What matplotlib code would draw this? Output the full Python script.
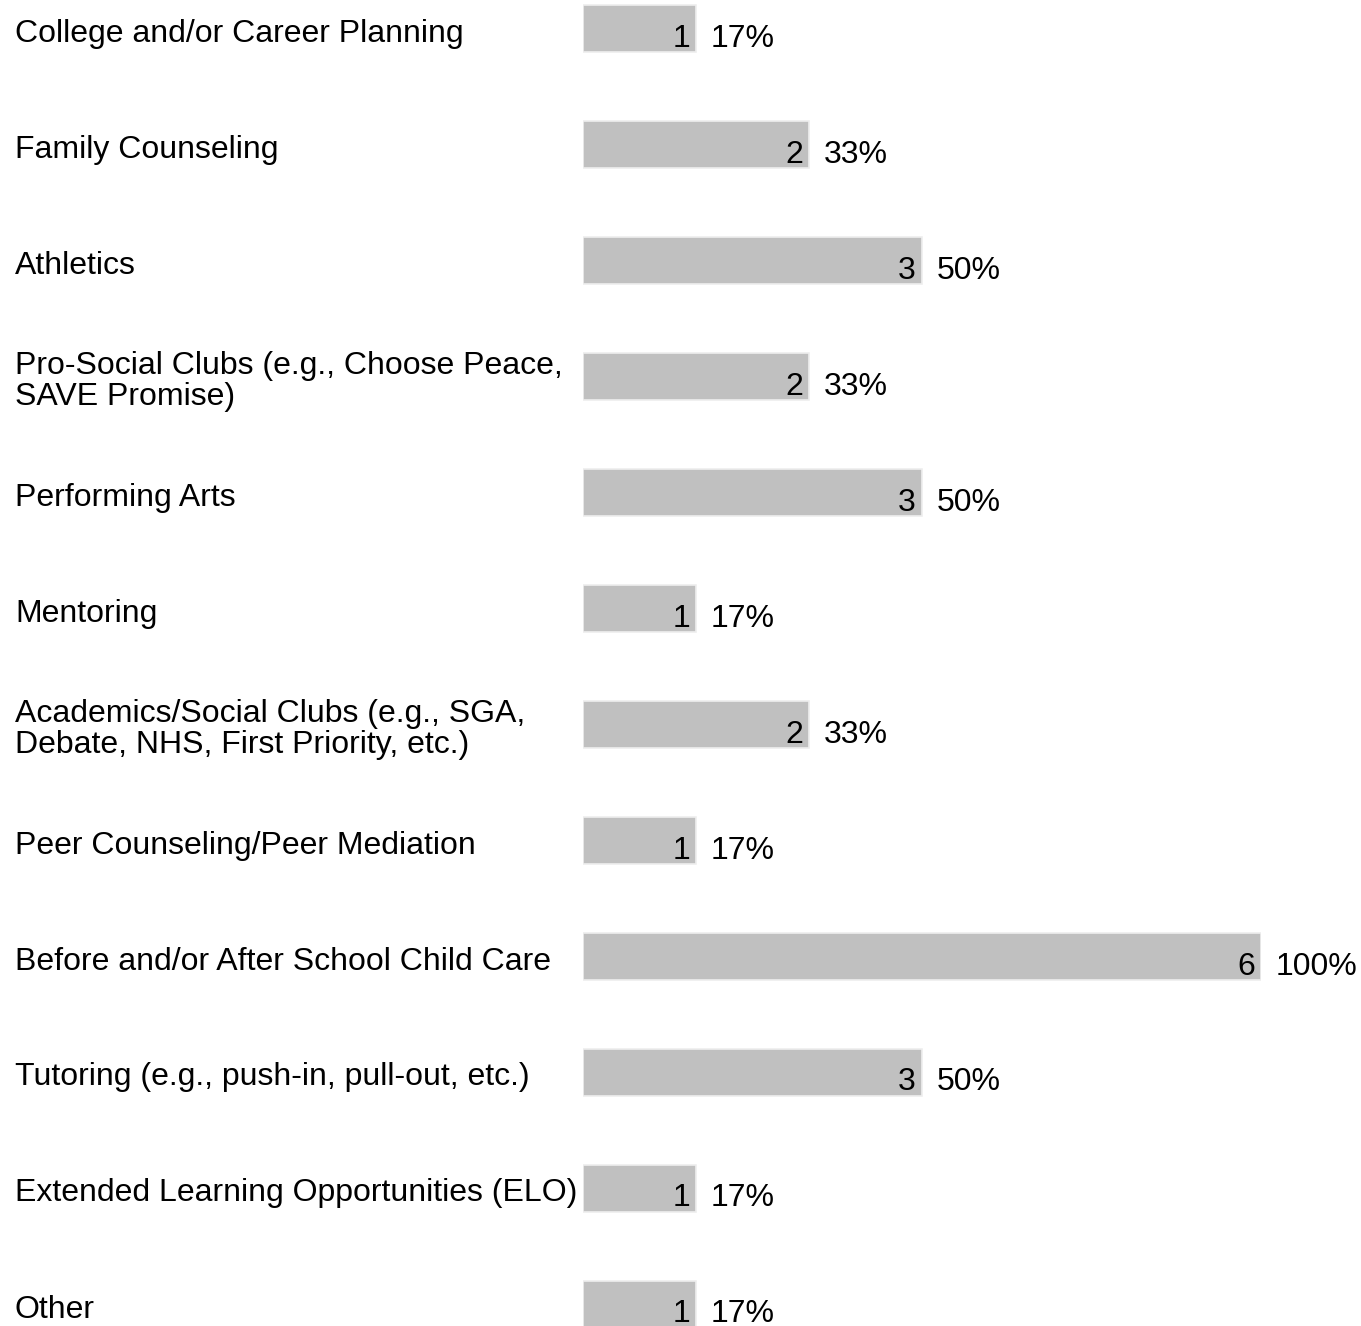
import matplotlib
matplotlib.use("Agg")
import matplotlib.pyplot as plt
import matplotlib.transforms as mtransforms

categories = [
    "College and/or Career Planning",
    "Family Counseling",
    "Athletics",
    "Pro-Social Clubs (e.g., Choose Peace,\nSAVE Promise)",
    "Performing Arts",
    "Mentoring",
    "Academics/Social Clubs (e.g., SGA,\nDebate, NHS, First Priority, etc.)",
    "Peer Counseling/Peer Mediation",
    "Before and/or After School Child Care",
    "Tutoring (e.g., push-in, pull-out, etc.)",
    "Extended Learning Opportunities (ELO)",
    "Other",
]
counts = [1, 2, 3, 2, 3, 1, 2, 1, 6, 3, 1, 1]
percents = ["17%", "33%", "50%", "33%", "50%", "17%", "33%", "17%", "100%", "50%", "17%", "17%"]

plt.rcParams['font.family'] = ['Liberation Sans', 'DejaVu Sans']
FS = 23

W, H = 1361, 1326
fig = plt.figure(figsize=(W / 100, H / 100), dpi=100)
ax = fig.add_axes([583 / W, 0, 678 / W, 1])
ax.set_xlim(0, 6)
top = -28.5 / 116
bottom = (H - 28.5) / 116
ax.set_ylim(bottom, top)
ax.axis('off')

y = list(range(len(categories)))
ax.barh(y, counts, height=47 / 116, color='#c0c0c0', edgecolor='#eeeeee', linewidth=1.2)

trans_lab = mtransforms.blended_transform_factory(fig.transFigure, ax.transData)
for i, (cat, c, p) in enumerate(zip(categories, counts, percents)):
    ax.annotate(cat, xy=(15 / W, i), xycoords=trans_lab, xytext=(0, -5),
                textcoords='offset pixels', ha='left', va='center',
                fontsize=FS, linespacing=1.02, annotation_clip=False)
    ax.annotate(str(c), xy=(c, i), xytext=(-6, -10), textcoords='offset pixels',
                ha='right', va='center', fontsize=FS, annotation_clip=False)
    ax.annotate(p, xy=(c, i), xytext=(15, -10), textcoords='offset pixels',
                ha='left', va='center', fontsize=FS, annotation_clip=False)

fig.savefig("out.png", dpi=100)
